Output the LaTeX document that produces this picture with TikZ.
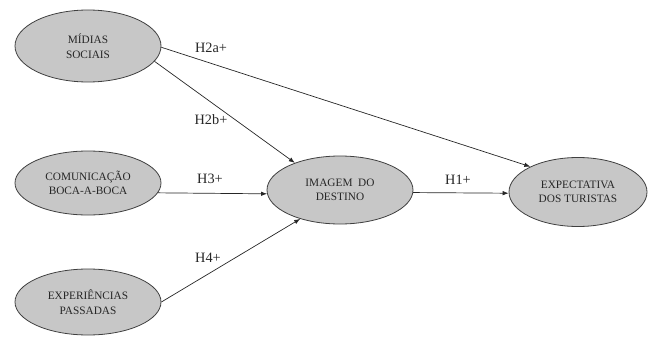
\documentclass[tikz,border=0pt]{standalone}
\usepackage{fontspec}
\setmainfont{Liberation Serif}
\usetikzlibrary{shapes.geometric,arrows.meta}

\tikzset{
  construto/.style={ellipse,draw=black!75,line width=0.8pt,fill=black!22,
    minimum width=146pt,minimum height=68pt,inner sep=0pt,align=center,
    font=\fontsize{11.3}{14.5}\selectfont,text=black!85},
  hip/.style={font=\fontsize{14.3}{16}\selectfont,text=black!85},
  seta/.style={-{Latex[length=6pt,width=4.5pt]},line width=0.7pt,draw=black!85}
}

\begin{document}
\begin{tikzpicture}[x=1pt,y=-1pt]
\useasboundingbox (0,0) rectangle (659,337);
\node[construto,minimum height=72pt] (ms) at (88,46) {MÍDIAS\\SOCIAIS};
\node[construto,minimum height=64pt] (com) at (88,183) {COMUNICAÇÃO\\BOCA-A-BOCA};
\node[construto,minimum height=66pt] (exp) at (88,302) {EXPERIÊNCIAS\\PASSADAS};
\node[construto] (img) at (340,190) {IMAGEM\ \ DO\\DESTINO};
\node[construto,minimum width=138pt,minimum height=69pt] (tur) at (578,192) {EXPECTATIVA\\DOS TURISTAS};

\draw[seta] (ms.-1) -- (tur.152);
\draw[seta] (ms.-13) -- (img.149);
\draw[seta] (com.-8) -- (img.183);
\draw[seta] (exp.0) -- (img.216);
\draw[seta] (img.-2) -- (tur.181);

\node[hip] (h2a) at (211,48) {H2a+};
\node[hip] (h2b) at (211,120) {H2b+};
\node[hip] (h3) at (210,179) {H3+};
\node[hip] (h4) at (208,258) {H4+};
\node[hip] (h1) at (458,180) {H1+};
\end{tikzpicture}
\end{document}
